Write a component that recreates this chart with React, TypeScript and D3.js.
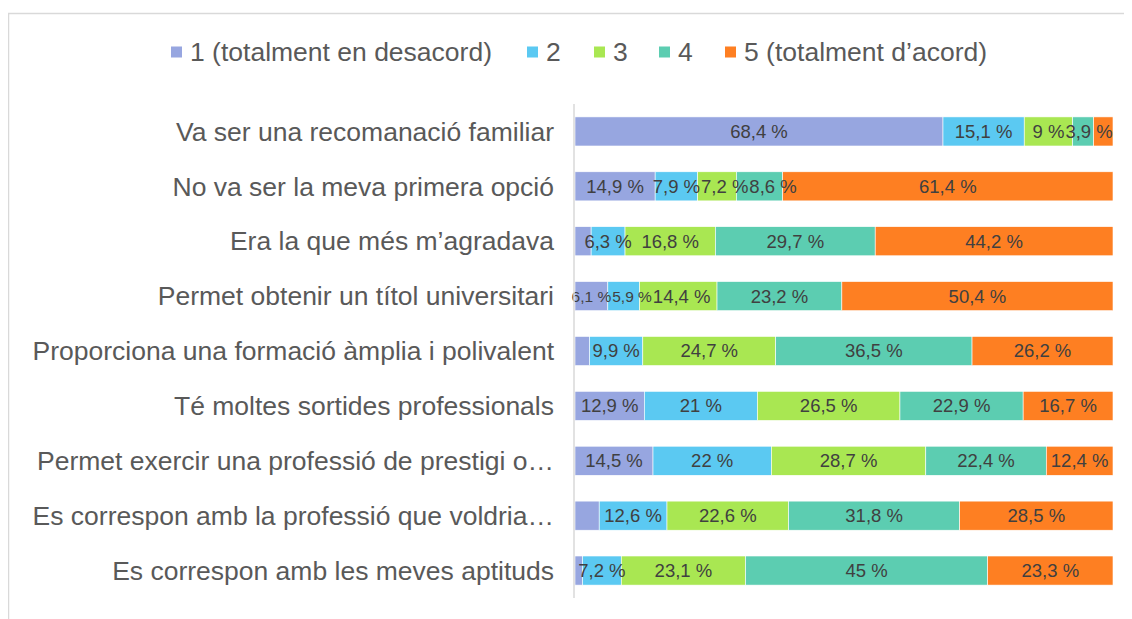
// Stacked horizontal bar chart (percent agreement per reason) with d3.

import * as d3 from "d3";

const categories = [
  "Va ser una recomanació familiar",
  "No va ser la meva primera opció",
  "Era la que més m’agradava",
  "Permet obtenir un títol universitari",
  "Proporciona una formació àmplia i polivalent",
  "Té moltes sortides professionals",
  "Permet exercir una professió de prestigi o…",
  "Es correspon amb la professió que voldria…",
  "Es correspon amb les meves aptituds",
];

const seriesNames = ["1 (totalment en desacord)", "2", "3", "4", "5 (totalment d’acord)"];
const seriesColors = ["#97a6e0", "#5bc9f2", "#a9e752", "#5ccdb1", "#fe7f22"];

// values per category, per series (1..5)
const s1 = [68.4, 14.9, 3.0, 6.1, 2.7, 12.9, 14.5, 4.5, 1.4];
const s2 = [15.1, 7.9, 6.3, 5.9, 9.9, 21, 22, 12.6, 7.2];
const s3 = [9, 7.2, 16.8, 14.4, 24.7, 26.5, 28.7, 22.6, 23.1];
const s4 = [3.9, 8.6, 29.7, 23.2, 36.5, 22.9, 22.4, 31.8, 45];
const s5 = [3.6, 61.4, 44.2, 50.4, 26.2, 16.7, 12.4, 28.5, 23.3];

// [category index, series index] pairs without a data label
const hiddenLabels = [[0, 4], [2, 0], [4, 0], [7, 0], [8, 0]];
// labels printed in a smaller size
const smallLabels = [[3, 0], [3, 1]];

const fmt = (v: number) => `${String(v).replace(".", ",")} %`;

const font = "'Liberation Sans', Arial, sans-serif";
let ctx: CanvasRenderingContext2D | null = null;
function textWidth(s: string, size: number) {
  if (!ctx) ctx = document.createElement("canvas").getContext("2d");
  if (!ctx) return s.length * size * 0.55;
  ctx.font = `${size}px ${font}`;
  return ctx.measureText(s).width;
}

export default function App() {
  const width = 1124;
  const height = 611;

  const series = [s1, s2, s3, s4, s5];
  const rows = categories.map((c, i) => {
    const r: any = { cat: c };
    series.forEach((s, k) => (r["k" + k] = s[i]));
    return r;
  });
  const stack = d3.stack().keys(series.map((_, k) => "k" + k))(rows);

  const x = d3.scaleLinear([0, 100], [567, 1105]);
  const y = d3.scaleBand(categories, [96, 590]).paddingInner(0.47).paddingOuter(0.235);

  const isIn = (list: number[][], i: number, k: number) =>
    list.some(([a, b]) => a === i && b === k);

  // data labels: centred in the segment, pushed right when they collide
  const labels: { key: string; x: number; y: number; size: number; text: string }[] = [];
  categories.forEach((c, i) => {
    let prevEnd = -Infinity;
    stack.forEach((layer, k) => {
      if (isIn(hiddenLabels, i, k)) return;
      const d = layer[i];
      const size = isIn(smallLabels, i, k) ? 15.5 : 18.5;
      const text = fmt(series[k][i]);
      const w = textWidth(text, size);
      let cx = (x(d[0]) + x(d[1])) / 2;
      if (cx - w / 2 < prevEnd + 1) cx = prevEnd + 1 + w / 2;
      prevEnd = cx + w / 2;
      labels.push({ key: `${i}-${k}`, x: cx, y: (y(c) as number) + y.bandwidth() / 2, size, text });
    });
  });

  // legend layout
  const legendX = [163, 519, 586, 651, 717];

  return (
    <svg width={width} height={height} style={{ display: "block" }} fontFamily={font}>
      <rect x={0.5} y={5.5} width={width + 20} height={height + 20} fill="white" stroke="#d9d9d9" strokeWidth={1.5} />

      <g>
        {seriesNames.map((n, k) => (
          <g key={n} transform={`translate(${legendX[k]},44)`}>
            <rect x={0} y={-5.5} width={11} height={11} fill={seriesColors[k]} />
            <text x={19} y={0} dy="0.35em" fontSize={26.5} fill="#595959">
              {n}
            </text>
          </g>
        ))}
      </g>

      {stack.map((layer, k) => (
        <g key={k} fill={seriesColors[k]}>
          {layer.map((d, i) => (
            <rect
              key={i}
              x={x(d[0])}
              y={y(categories[i])}
              width={x(d[1]) - x(d[0])}
              height={y.bandwidth()}
              stroke="white"
              strokeWidth={0.6}
            />
          ))}
        </g>
      ))}

      <g fill="#404040" textAnchor="middle">
        {labels.map((l) => (
          <text key={l.key} x={l.x} y={l.y} dy="0.35em" fontSize={l.size}>
            {l.text}
          </text>
        ))}
      </g>

      <line x1={566} x2={566} y1={y.range()[0]} y2={y.range()[1]} stroke="#d9d9d9" strokeWidth={1.5} />

      <g textAnchor="end" fill="#595959" fontSize={26.5}>
        {categories.map((c) => (
          <text key={c} x={546} y={(y(c) as number) + y.bandwidth() / 2} dy="0.35em">
            {c}
          </text>
        ))}
      </g>
    </svg>
  );
}
